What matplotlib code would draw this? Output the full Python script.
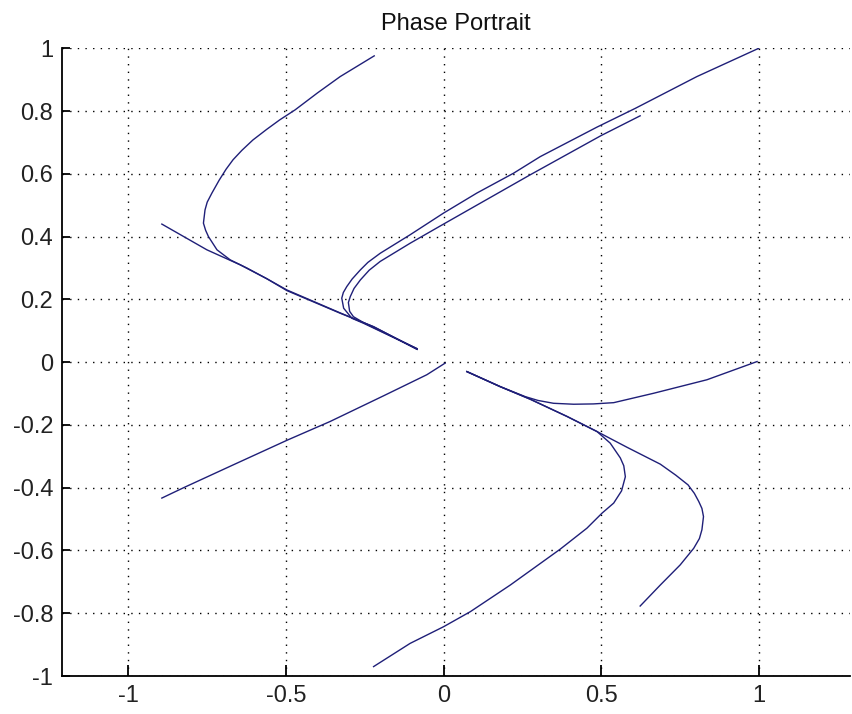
import matplotlib
matplotlib.use("Agg")
import matplotlib.pyplot as plt

plt.rcParams['font.family'] = ['Liberation Sans', 'DejaVu Sans']

# Trajectories of the system in the (x, y) phase plane
traj_a_x = [1.000, 0.804, 0.609, 0.487, 0.307, 0.222, 0.106, 0.000, -0.106, -0.201,
            -0.240, -0.264, -0.290, -0.307, -0.318, -0.323, -0.317, -0.291, -0.254, -0.084]
traj_a_y = [1.000, 0.910, 0.809, 0.749, 0.655, 0.602, 0.539, 0.475, 0.406, 0.347,
            0.318, 0.294, 0.265, 0.241, 0.222, 0.204, 0.172, 0.140, 0.124, 0.043]

traj_b_x = [0.624, 0.500, 0.275, 0.000, -0.106, -0.201, -0.236, -0.264, -0.284, -0.296,
            -0.302, -0.298, -0.286, -0.254, -0.084]
traj_b_y = [0.785, 0.722, 0.597, 0.440, 0.379, 0.321, 0.293, 0.262, 0.235, 0.209,
            0.190, 0.162, 0.145, 0.126, 0.043]

traj_c_x = [-0.220, -0.328, -0.400, -0.471, -0.520, -0.561, -0.605, -0.640, -0.668,
            -0.690, -0.712, -0.735, -0.750, -0.757, -0.762, -0.755, -0.746, -0.719,
            -0.677, -0.624, -0.561, -0.497, -0.328, -0.222, -0.084]
traj_c_y = [0.976, 0.910, 0.858, 0.804, 0.772, 0.742, 0.708, 0.675, 0.645,
            0.615, 0.580, 0.539, 0.510, 0.485, 0.443, 0.420, 0.400, 0.358,
            0.326, 0.300, 0.266, 0.230, 0.157, 0.113, 0.041]

traj_d_x = [-0.894, -0.751, -0.645, -0.561, -0.497, -0.328, -0.222, -0.084]
traj_d_y = [0.440, 0.358, 0.310, 0.266, 0.228, 0.156, 0.113, 0.041]

traj_e_x = [-0.894, -0.825, -0.667, -0.495, -0.360, -0.190, -0.053, 0.005]
traj_e_y = [-0.433, -0.400, -0.327, -0.248, -0.189, -0.107, -0.040, -0.003]

traj_f_x = [0.995, 0.836, 0.667, 0.540, 0.476, 0.413, 0.349, 0.300, 0.260, 0.180, 0.074]
traj_f_y = [0.002, -0.056, -0.099, -0.129, -0.133, -0.134, -0.131, -0.122, -0.110,
            -0.078, -0.030]

traj_g_x = [-0.222, -0.106, 0.000, 0.085, 0.212, 0.370, 0.455, 0.503, 0.540, 0.565,
            0.577, 0.572, 0.561, 0.529, 0.487, 0.392, 0.275, 0.180, 0.074]
traj_g_y = [-0.970, -0.896, -0.843, -0.795, -0.710, -0.596, -0.529, -0.481, -0.449,
            -0.410, -0.365, -0.330, -0.305, -0.258, -0.221, -0.173, -0.118, -0.078,
            -0.030]

traj_h_x = [0.624, 0.688, 0.751, 0.794, 0.812, 0.820, 0.825, 0.820, 0.810, 0.796,
            0.776, 0.737, 0.688, 0.582, 0.487, 0.392, 0.275, 0.180, 0.074]
traj_h_y = [-0.777, -0.710, -0.646, -0.593, -0.562, -0.534, -0.492, -0.466, -0.444,
            -0.418, -0.391, -0.360, -0.325, -0.271, -0.221, -0.173, -0.118, -0.078,
            -0.030]

trajectories = [
    (traj_a_x, traj_a_y), (traj_b_x, traj_b_y), (traj_c_x, traj_c_y),
    (traj_d_x, traj_d_y), (traj_e_x, traj_e_y), (traj_f_x, traj_f_y),
    (traj_g_x, traj_g_y), (traj_h_x, traj_h_y),
]

x_ticks = [-1, -0.5, 0, 0.5, 1]
x_tick_labels = ['-1', '-0.5', '0', '0.5', '1']
y_ticks = [-1, -0.8, -0.6, -0.4, -0.2, 0, 0.2, 0.4, 0.6, 0.8, 1]
y_tick_labels = ['-1', '-0.8', '-0.6', '-0.4', '-0.2', '0', '0.2', '0.4', '0.6', '0.8', '1']

fig = plt.figure(figsize=(8.53, 7.14), dpi=100)
ax = fig.add_axes([0.0730, 0.0532, 0.9235, 0.8791])

line_color = '#1f1f78'
for tx, ty in trajectories:
    ax.plot(tx, ty, color=line_color, linewidth=1.0, solid_joinstyle='round')

ax.set_xlim(-1.21, 1.29)
ax.set_ylim(-1, 1)
ax.set_xticks(x_ticks)
ax.set_xticklabels(x_tick_labels)
ax.set_yticks(y_ticks)
ax.set_yticklabels(y_tick_labels)

ax.grid(True, color='black', linestyle=(0, (1, 4.5)), linewidth=1.0)
ax.set_axisbelow(True)

for side in ('top', 'right'):
    ax.spines[side].set_visible(False)
for side in ('left', 'bottom'):
    ax.spines[side].set_linewidth(1.3)
    ax.spines[side].set_color('black')

ax.tick_params(axis='both', direction='in', labelsize=17, pad=6.5, width=1.3,
               colors='black')
ax.tick_params(axis='both', labelcolor='#222222')
ax.tick_params(axis='x', length=8)
ax.tick_params(axis='y', length=6)

ax.set_title('Phase Portrait', fontsize=17, pad=13, color='#111111')

fig.savefig('out.png', dpi=100)
